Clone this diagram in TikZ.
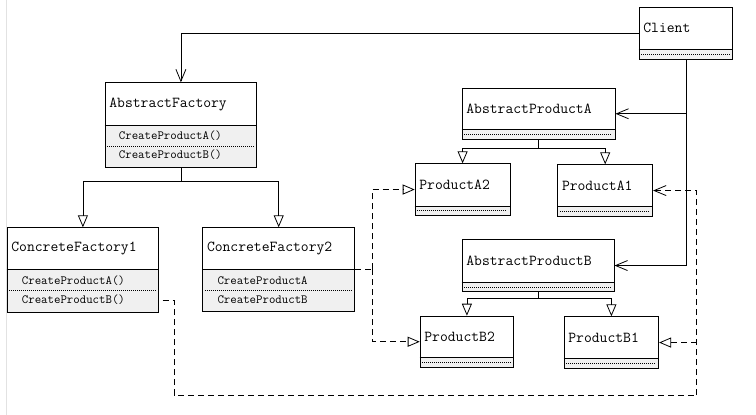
\documentclass[tikz,border=0pt]{standalone}
\usetikzlibrary{arrows.meta,calc}
\definecolor{compfill}{RGB}{240,240,240}
\definecolor{pageline}{RGB}{226,226,226}
\tikzset{
  umlline/.style={line width=0.8pt, black},
  classbox/.style={draw, umlline, rectangle, inner sep=0pt, anchor=north west},
  titletext/.style={anchor=west, inner sep=0pt, font=\fontsize{15.2}{18}\selectfont\ttfamily},
  methodtext/.style={anchor=west, inner sep=0pt, font=\fontsize{12.5}{15}\selectfont\ttfamily},
  dotline/.style={line width=0.6pt, dash pattern=on 1pt off 1pt},
  assoc/.style={umlline, -{Straight Barb[length=12pt,width=10pt]}},
  gen/.style={umlline, -{Triangle[open,length=12pt,width=10pt]}},
  depline/.style={umlline, dash pattern=on 6pt off 4pt},
  realize/.style={depline, -{Triangle[open,length=12pt,width=10pt]}},
  depend/.style={depline, -{Straight Barb[length=12pt,width=10pt]}},
}
% #1 name, #2 x1, #3 y1, #4 x2, #5 y2, #6 separator y, #7 dotted line y, #8 title
\newcommand\umlclass[8]{%
  \fill[compfill] (#2,#6) rectangle (#4,#5);
  \draw[umlline] (#2,#6) -- (#4,#6);
  \draw[dotline] (#2+2.5,#7) -- (#4-2.5,#7);
  \node[classbox, minimum width={#4pt-#2pt}, minimum height={#5pt-#3pt}] (#1) at (#2,#3) {};
  \node[titletext] (#1-title) at ($(#2,#3)!.5!(#2,#6)+(4.5,0)$) {#8};
}
\begin{document}
\begin{tikzpicture}[x=1pt,y=-1pt]
\useasboundingbox (0,0) rectangle (756,415);
\draw[pageline, line width=0.8pt] (6.5,0) -- (6.5,415);

% classes
\umlclass{cl}{638.7}{7.3}{732.3}{59.3}{49.3}{54.3}{Client}
\umlclass{af}{104.7}{82.3}{256.3}{167.3}{125.7}{146}{AbstractFactory}
\node[methodtext] (af-m1) at (118.7,136) {CreateProductA()};
\node[methodtext] (af-m2) at (118.7,155) {CreateProductB()};
\umlclass{apa}{461.7}{87.7}{614.7}{139}{129.7}{134.5}{AbstractProductA}
\umlclass{pa2}{414.7}{163.3}{509.7}{215}{206}{210.5}{ProductA2}
\umlclass{pa1}{557.3}{164.3}{652.3}{216}{206.7}{211.3}{ProductA1}
\umlclass{cf1}{6.7}{227.3}{158.3}{312}{269.3}{290}{ConcreteFactory1}
\node[methodtext] (cf1-m1) at (21.7,281) {CreateProductA()};
\node[methodtext] (cf1-m2) at (21.7,299.3) {CreateProductB()};
\umlclass{cf2}{202.3}{227.3}{354.3}{311}{269.3}{290}{ConcreteFactory2}
\node[methodtext] (cf2-m1) at (217.3,281) {CreateProductA};
\node[methodtext] (cf2-m2) at (217.3,299.3) {CreateProductB};
\umlclass{apb}{461.7}{239.3}{613.7}{291}{282.7}{287}{AbstractProductB}
\umlclass{pb2}{419.7}{315.7}{513.3}{367}{357.7}{362.3}{ProductB2}
\umlclass{pb1}{563.7}{316.3}{658.3}{368}{358.7}{363.3}{ProductB1}

% associations from Client
\draw[assoc] (cl.west) -| (af.north);
\draw[assoc] (cl.south |- apa.east) -- (apa.east);
\draw[assoc] (cl.south) |- (apb.east);

% generalizations
\coordinate (afbus) at (af.south |- 0,181);
\draw[umlline] (af.south) -- (afbus);
\draw[gen] (afbus) -| (cf1.north);
\draw[gen] (afbus) -| (cf2.north);

\coordinate (apabus) at (apa.south |- 0,148.3);
\draw[umlline] (apa.south) -- (apabus);
\draw[gen] (apabus) -| (pa2.north);
\draw[gen] (apabus) -| (pa1.north);

\coordinate (apbbus) at (apb.south |- 0,298.3);
\draw[umlline] (apb.south) -- (apbbus);
\draw[gen] (apbbus) -| (pb2.north);
\draw[gen] (apbbus) -| (pb1.north);

% ConcreteFactory2 dependencies
\coordinate (j2) at (372.3,269.3);
\draw[depline] (cf2.east |- j2) -- (j2);
\draw[realize] (j2) |- (pa2.west);
\draw[realize] (j2) |- (pb2.west);

% ConcreteFactory1 dependencies
\coordinate (k1) at (174,300.7);
\coordinate (k2) at (174,395);
\coordinate (k3) at (696.7,395);
\draw[depline] ([xshift=3.5pt]cf1.east |- k1) -- (k1) -- (k2) -- (k3);
\draw[depend] (k3) |- (pa1.east);
\draw[realize] (k3 |- pb1.east) -- (pb1.east);
\end{tikzpicture}
\end{document}
